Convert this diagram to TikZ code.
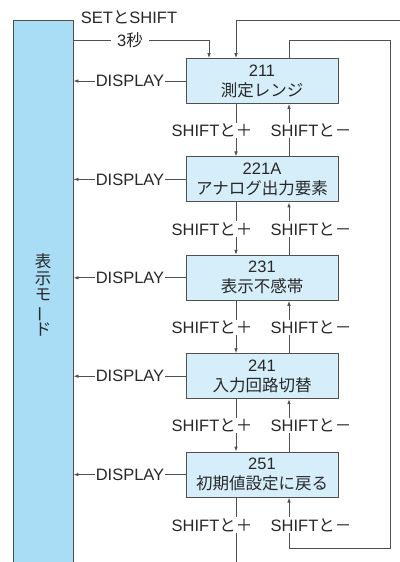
\documentclass[tikz,border=0pt]{standalone}
\usepackage{fontspec}
\usepackage{graphicx}
\setmainfont{Liberation Sans}
\newfontfamily\jp{Noto Sans CJK JP}
\usetikzlibrary{arrows.meta}
\definecolor{barblue}{RGB}{168,221,245}
\definecolor{boxblue}{RGB}{213,238,250}
\definecolor{ln}{RGB}{80,80,80}
\definecolor{txt}{RGB}{40,40,40}
\begin{document}
\begin{tikzpicture}[x=1pt,y=-1pt,
  font=\fontsize{16.5}{20}\selectfont, text=txt,
  conn/.style={draw=ln, line width=0.9pt},
  arr/.style={conn, -{Latex[length=5pt,width=3.6pt]}},
  modebox/.style={draw=ln, line width=0.9pt, fill=boxblue, minimum width=152pt,
    minimum height=45pt, inner sep=0pt, align=center},
  lbl/.style={fill=white, inner sep=1pt},
  barbox/.style={draw=ln, line width=0.9pt, fill=barblue, minimum width=60pt,
    minimum height=550pt, inner sep=0pt, align=center,
    font=\jp\fontsize{16.5}{16.7}\selectfont}]
\useasboundingbox[fill=white] (0,0) rectangle (399,562);

% left bar
\node[barbox] (bar) at (43,295) {表\\示\\モ\\\rotatebox[origin=c]{90}{ー}\\ド};

% mode boxes
\node[modebox] (b1) at (262,81)    {211\\{\jp 測定レンジ}};
\node[modebox] (b2) at (262,179.4) {221A\\{\jp アナログ出力要素}};
\node[modebox] (b3) at (262,277.8) {231\\{\jp 表示不感帯}};
\node[modebox] (b4) at (262,376.2) {241\\{\jp 入力回路切替}};
\node[modebox] (b5) at (262,474.6) {251\\{\jp 初期値設定に戻る}};

% coordinates
\coordinate (setc) at (209,40);
\coordinate (tr) at (402,20);
\coordinate (tl) at (236,20);
\coordinate (rt) at (390,40);
\coordinate (rb) at (390,548);
\coordinate (bl) at (236,566);

% entry arrow
\draw[arr] (bar.east |- setc) -- (setc) -- (setc |- b1.north);
\node (setlbl) at (129,17) {SET{\jp と}SHIFT};
\node[lbl, inner xsep=6pt] (seclbl) at (130,40) {3{\jp 秒}};

% top loop from outside
\draw[arr] (tr) -- (tl) -- ([xshift=-26pt]b1.north);

% right loop
\draw[arr] ([xshift=27pt]b1.north) |- (rt) -- (rb) -| ([xshift=27pt]b5.south);

% vertical connections
\foreach \a/\b in {b1/b2,b2/b3,b3/b4,b4/b5}{
  \draw[arr] ([xshift=-26pt]\a.south) -- ([xshift=-26pt]\b.north);
  \draw[arr] ([xshift=27pt]\b.north) -- ([xshift=27pt]\a.south);
}
\draw[conn] ([xshift=-26pt]b5.south) -- (bl);

% labels between boxes
\foreach \y in {130.5,228.9,327.3,425.7,525}{
  \node[lbl] at (212,\y) {SHIFT{\jp と＋}};
  \node[lbl] at (311,\y) {SHIFT{\jp と－}};
}

% DISPLAY arrows
\foreach \b in {b1,b2,b3,b4,b5}{
  \draw[arr] (\b.west) -- (\b.west -| bar.east);
  \node[lbl] at (\b.west -| 130,0) {DISPLAY};
}
\end{tikzpicture}
\end{document}
